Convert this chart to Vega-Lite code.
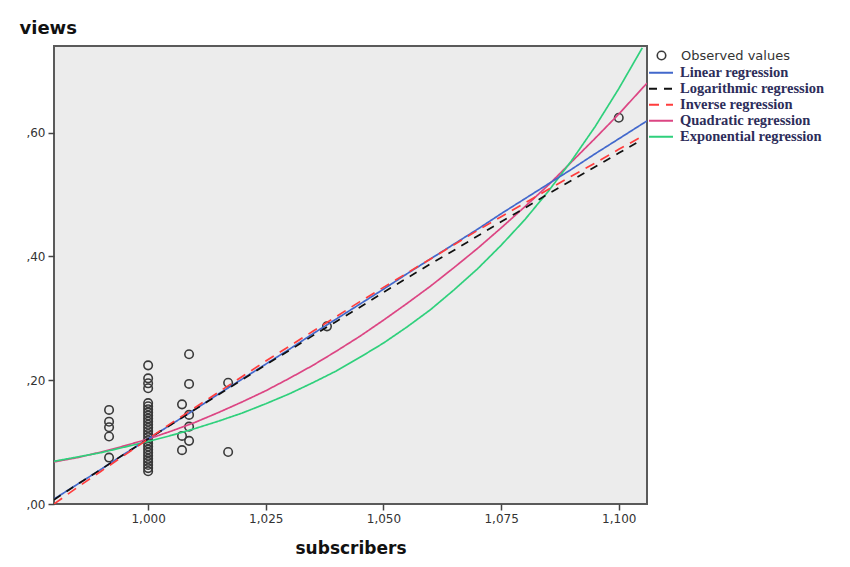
{
  "$schema": "https://vega.github.io/schema/vega-lite/v6.json",
  "width": 593,
  "height": 458,
  "autosize": {"type": "none"},
  "padding": {"left": 54, "top": 46, "right": 203, "bottom": 63},
  "background": "white",
  "config": {
    "view": {"fill": "#ececec", "stroke": "#5a5a5a", "strokeWidth": 2},
    "axis": {"grid": false, "domain": false, "tickSize": 6, "tickColor": "#444", "tickWidth": 1.5, "labelFont": "DejaVu Sans", "labelFontSize": 12, "labelColor": "#333", "titleFont": "DejaVu Sans", "titleFontSize": 17, "titleFontWeight": "bold", "titleColor": "#111"}
  },
  "datasets": {
    "obs": [
      {"subscribers": 0.9917, "views": 0.152}, {"subscribers": 0.9917, "views": 0.133}, {"subscribers": 0.9917, "views": 0.124}, {"subscribers": 0.9917, "views": 0.109}, {"subscribers": 0.9917, "views": 0.075},
      {"subscribers": 1.0, "views": 0.224}, {"subscribers": 1.0, "views": 0.203}, {"subscribers": 1.0, "views": 0.195}, {"subscribers": 1.0, "views": 0.187},
      {"subscribers": 1.0, "views": 0.163}, {"subscribers": 1.0, "views": 0.158}, {"subscribers": 1.0, "views": 0.153}, {"subscribers": 1.0, "views": 0.148}, {"subscribers": 1.0, "views": 0.143}, {"subscribers": 1.0, "views": 0.138}, {"subscribers": 1.0, "views": 0.133}, {"subscribers": 1.0, "views": 0.128}, {"subscribers": 1.0, "views": 0.123}, {"subscribers": 1.0, "views": 0.118}, {"subscribers": 1.0, "views": 0.113}, {"subscribers": 1.0, "views": 0.108}, {"subscribers": 1.0, "views": 0.103}, {"subscribers": 1.0, "views": 0.098}, {"subscribers": 1.0, "views": 0.093}, {"subscribers": 1.0, "views": 0.088}, {"subscribers": 1.0, "views": 0.083}, {"subscribers": 1.0, "views": 0.078}, {"subscribers": 1.0, "views": 0.073}, {"subscribers": 1.0, "views": 0.068}, {"subscribers": 1.0, "views": 0.063}, {"subscribers": 1.0, "views": 0.058}, {"subscribers": 1.0, "views": 0.053},
      {"subscribers": 1.0072, "views": 0.161}, {"subscribers": 1.0072, "views": 0.110}, {"subscribers": 1.0072, "views": 0.087},
      {"subscribers": 1.0087, "views": 0.242}, {"subscribers": 1.0087, "views": 0.194}, {"subscribers": 1.0087, "views": 0.144}, {"subscribers": 1.0087, "views": 0.125}, {"subscribers": 1.0087, "views": 0.102},
      {"subscribers": 1.017, "views": 0.196}, {"subscribers": 1.017, "views": 0.084},
      {"subscribers": 1.038, "views": 0.287},
      {"subscribers": 1.1, "views": 0.624}
    ],
    "fits": [
      {"model": "Quadratic regression", "subscribers": 0.98, "views": 0.068}, {"model": "Quadratic regression", "subscribers": 0.985, "views": 0.075}, {"model": "Quadratic regression", "subscribers": 0.99, "views": 0.084}, {"model": "Quadratic regression", "subscribers": 0.995, "views": 0.094}, {"model": "Quadratic regression", "subscribers": 1.0, "views": 0.105}, {"model": "Quadratic regression", "subscribers": 1.005, "views": 0.118}, {"model": "Quadratic regression", "subscribers": 1.01, "views": 0.132}, {"model": "Quadratic regression", "subscribers": 1.015, "views": 0.148}, {"model": "Quadratic regression", "subscribers": 1.02, "views": 0.165}, {"model": "Quadratic regression", "subscribers": 1.025, "views": 0.183}, {"model": "Quadratic regression", "subscribers": 1.03, "views": 0.203}, {"model": "Quadratic regression", "subscribers": 1.035, "views": 0.224}, {"model": "Quadratic regression", "subscribers": 1.04, "views": 0.247}, {"model": "Quadratic regression", "subscribers": 1.045, "views": 0.271}, {"model": "Quadratic regression", "subscribers": 1.05, "views": 0.297}, {"model": "Quadratic regression", "subscribers": 1.055, "views": 0.324}, {"model": "Quadratic regression", "subscribers": 1.06, "views": 0.352}, {"model": "Quadratic regression", "subscribers": 1.065, "views": 0.382}, {"model": "Quadratic regression", "subscribers": 1.07, "views": 0.413}, {"model": "Quadratic regression", "subscribers": 1.075, "views": 0.446}, {"model": "Quadratic regression", "subscribers": 1.08, "views": 0.480}, {"model": "Quadratic regression", "subscribers": 1.085, "views": 0.515}, {"model": "Quadratic regression", "subscribers": 1.09, "views": 0.553}, {"model": "Quadratic regression", "subscribers": 1.095, "views": 0.591}, {"model": "Quadratic regression", "subscribers": 1.1, "views": 0.630}, {"model": "Quadratic regression", "subscribers": 1.106, "views": 0.680},
      {"model": "Exponential regression", "subscribers": 0.98, "views": 0.069}, {"model": "Exponential regression", "subscribers": 0.985, "views": 0.076}, {"model": "Exponential regression", "subscribers": 0.99, "views": 0.083}, {"model": "Exponential regression", "subscribers": 0.995, "views": 0.092}, {"model": "Exponential regression", "subscribers": 1.0, "views": 0.101}, {"model": "Exponential regression", "subscribers": 1.005, "views": 0.111}, {"model": "Exponential regression", "subscribers": 1.01, "views": 0.122}, {"model": "Exponential regression", "subscribers": 1.015, "views": 0.134}, {"model": "Exponential regression", "subscribers": 1.02, "views": 0.147}, {"model": "Exponential regression", "subscribers": 1.025, "views": 0.162}, {"model": "Exponential regression", "subscribers": 1.03, "views": 0.178}, {"model": "Exponential regression", "subscribers": 1.035, "views": 0.196}, {"model": "Exponential regression", "subscribers": 1.04, "views": 0.215}, {"model": "Exponential regression", "subscribers": 1.045, "views": 0.237}, {"model": "Exponential regression", "subscribers": 1.05, "views": 0.260}, {"model": "Exponential regression", "subscribers": 1.055, "views": 0.286}, {"model": "Exponential regression", "subscribers": 1.06, "views": 0.314}, {"model": "Exponential regression", "subscribers": 1.065, "views": 0.346}, {"model": "Exponential regression", "subscribers": 1.07, "views": 0.380}, {"model": "Exponential regression", "subscribers": 1.075, "views": 0.418}, {"model": "Exponential regression", "subscribers": 1.08, "views": 0.459}, {"model": "Exponential regression", "subscribers": 1.085, "views": 0.505}, {"model": "Exponential regression", "subscribers": 1.09, "views": 0.555}, {"model": "Exponential regression", "subscribers": 1.095, "views": 0.610}, {"model": "Exponential regression", "subscribers": 1.1, "views": 0.671}, {"model": "Exponential regression", "subscribers": 1.105, "views": 0.737},
      {"model": "Linear regression", "subscribers": 0.98, "views": 0.008}, {"model": "Linear regression", "subscribers": 0.985, "views": 0.032}, {"model": "Linear regression", "subscribers": 0.99, "views": 0.056}, {"model": "Linear regression", "subscribers": 0.995, "views": 0.081}, {"model": "Linear regression", "subscribers": 1.0, "views": 0.105}, {"model": "Linear regression", "subscribers": 1.005, "views": 0.129}, {"model": "Linear regression", "subscribers": 1.01, "views": 0.153}, {"model": "Linear regression", "subscribers": 1.015, "views": 0.178}, {"model": "Linear regression", "subscribers": 1.02, "views": 0.202}, {"model": "Linear regression", "subscribers": 1.025, "views": 0.226}, {"model": "Linear regression", "subscribers": 1.03, "views": 0.250}, {"model": "Linear regression", "subscribers": 1.035, "views": 0.275}, {"model": "Linear regression", "subscribers": 1.04, "views": 0.299}, {"model": "Linear regression", "subscribers": 1.045, "views": 0.323}, {"model": "Linear regression", "subscribers": 1.05, "views": 0.347}, {"model": "Linear regression", "subscribers": 1.055, "views": 0.372}, {"model": "Linear regression", "subscribers": 1.06, "views": 0.396}, {"model": "Linear regression", "subscribers": 1.065, "views": 0.420}, {"model": "Linear regression", "subscribers": 1.07, "views": 0.444}, {"model": "Linear regression", "subscribers": 1.075, "views": 0.469}, {"model": "Linear regression", "subscribers": 1.08, "views": 0.493}, {"model": "Linear regression", "subscribers": 1.085, "views": 0.517}, {"model": "Linear regression", "subscribers": 1.09, "views": 0.541}, {"model": "Linear regression", "subscribers": 1.095, "views": 0.566}, {"model": "Linear regression", "subscribers": 1.1, "views": 0.590}, {"model": "Linear regression", "subscribers": 1.106, "views": 0.619},
      {"model": "Logarithmic regression", "subscribers": 0.98, "views": 0.007}, {"model": "Logarithmic regression", "subscribers": 0.985, "views": 0.032}, {"model": "Logarithmic regression", "subscribers": 0.99, "views": 0.056}, {"model": "Logarithmic regression", "subscribers": 0.995, "views": 0.081}, {"model": "Logarithmic regression", "subscribers": 1.0, "views": 0.105}, {"model": "Logarithmic regression", "subscribers": 1.005, "views": 0.129}, {"model": "Logarithmic regression", "subscribers": 1.01, "views": 0.153}, {"model": "Logarithmic regression", "subscribers": 1.015, "views": 0.177}, {"model": "Logarithmic regression", "subscribers": 1.02, "views": 0.201}, {"model": "Logarithmic regression", "subscribers": 1.025, "views": 0.225}, {"model": "Logarithmic regression", "subscribers": 1.03, "views": 0.248}, {"model": "Logarithmic regression", "subscribers": 1.035, "views": 0.272}, {"model": "Logarithmic regression", "subscribers": 1.04, "views": 0.295}, {"model": "Logarithmic regression", "subscribers": 1.045, "views": 0.318}, {"model": "Logarithmic regression", "subscribers": 1.05, "views": 0.342}, {"model": "Logarithmic regression", "subscribers": 1.055, "views": 0.365}, {"model": "Logarithmic regression", "subscribers": 1.06, "views": 0.388}, {"model": "Logarithmic regression", "subscribers": 1.065, "views": 0.410}, {"model": "Logarithmic regression", "subscribers": 1.07, "views": 0.433}, {"model": "Logarithmic regression", "subscribers": 1.075, "views": 0.456}, {"model": "Logarithmic regression", "subscribers": 1.08, "views": 0.478}, {"model": "Logarithmic regression", "subscribers": 1.085, "views": 0.501}, {"model": "Logarithmic regression", "subscribers": 1.09, "views": 0.523}, {"model": "Logarithmic regression", "subscribers": 1.095, "views": 0.545}, {"model": "Logarithmic regression", "subscribers": 1.1, "views": 0.567}, {"model": "Logarithmic regression", "subscribers": 1.105, "views": 0.589},
      {"model": "Inverse regression", "subscribers": 0.98, "views": 0.0}, {"model": "Inverse regression", "subscribers": 0.985, "views": 0.027}, {"model": "Inverse regression", "subscribers": 0.99, "views": 0.053}, {"model": "Inverse regression", "subscribers": 0.995, "views": 0.079}, {"model": "Inverse regression", "subscribers": 1.0, "views": 0.105}, {"model": "Inverse regression", "subscribers": 1.005, "views": 0.131}, {"model": "Inverse regression", "subscribers": 1.01, "views": 0.156}, {"model": "Inverse regression", "subscribers": 1.015, "views": 0.181}, {"model": "Inverse regression", "subscribers": 1.02, "views": 0.206}, {"model": "Inverse regression", "subscribers": 1.025, "views": 0.231}, {"model": "Inverse regression", "subscribers": 1.03, "views": 0.255}, {"model": "Inverse regression", "subscribers": 1.035, "views": 0.279}, {"model": "Inverse regression", "subscribers": 1.04, "views": 0.303}, {"model": "Inverse regression", "subscribers": 1.045, "views": 0.327}, {"model": "Inverse regression", "subscribers": 1.05, "views": 0.350}, {"model": "Inverse regression", "subscribers": 1.055, "views": 0.373}, {"model": "Inverse regression", "subscribers": 1.06, "views": 0.396}, {"model": "Inverse regression", "subscribers": 1.065, "views": 0.419}, {"model": "Inverse regression", "subscribers": 1.07, "views": 0.442}, {"model": "Inverse regression", "subscribers": 1.075, "views": 0.464}, {"model": "Inverse regression", "subscribers": 1.08, "views": 0.486}, {"model": "Inverse regression", "subscribers": 1.085, "views": 0.508}, {"model": "Inverse regression", "subscribers": 1.09, "views": 0.530}, {"model": "Inverse regression", "subscribers": 1.095, "views": 0.551}, {"model": "Inverse regression", "subscribers": 1.1, "views": 0.573}, {"model": "Inverse regression", "subscribers": 1.105, "views": 0.594}
    ]
  },
  "layer": [
    {
      "data": {"name": "obs"},
      "mark": {"type": "point", "shape": "circle", "filled": false, "size": 72, "strokeWidth": 1.6, "color": "#3a3a3a", "opacity": 1},
      "encoding": {
        "x": {"field": "subscribers", "type": "quantitative", "scale": {"domain": [0.98, 1.106], "nice": false, "zero": false},
          "axis": {"title": "subscribers", "values": [1, 1.025, 1.05, 1.075, 1.1], "labelExpr": "replace(format(datum.value, '.3f'), '.', ',')", "labelPadding": 3, "titleBaseline": "alphabetic", "titleY": 49}},
        "y": {"field": "views", "type": "quantitative", "scale": {"domain": [0, 0.74], "nice": false, "zero": false},
          "axis": {"title": "views", "values": [0, 0.2, 0.4, 0.6], "labelExpr": "replace(format(datum.value, '.2f'), '0.', ',')", "labelPadding": 3, "titleAngle": 0, "titleAlign": "left", "titleBaseline": "alphabetic", "titleX": -35, "titleY": -13, "titleFontSize": 18}},
        "shape": {"datum": "Observed values", "type": "nominal", "scale": {"domain": ["Observed values"], "range": ["circle"]},
          "legend": {"title": null, "orient": "none", "legendX": 601, "legendY": 3, "padding": 0, "symbolSize": 72, "symbolStrokeColor": "#3a3a3a", "symbolFillColor": "transparent", "symbolStrokeWidth": 1.6, "labelFont": "DejaVu Sans", "labelFontSize": 13, "labelColor": "#333", "labelOffset": 13}}
      }
    },
    {
      "data": {"name": "fits"},
      "mark": {"type": "line", "strokeWidth": 1.7, "clip": true},
      "encoding": {
        "x": {"field": "subscribers", "type": "quantitative"},
        "y": {"field": "views", "type": "quantitative"},
        "color": {"field": "model", "type": "nominal", "sort": null,
          "scale": {"domain": ["Linear regression", "Logarithmic regression", "Inverse regression", "Quadratic regression", "Exponential regression"], "range": ["#4268cc", "#111111", "#ff3d3d", "#dc4583", "#2fd07c"]},
          "legend": {"title": null, "orient": "none", "legendX": 594, "legendY": 19.5, "padding": 0, "symbolType": "stroke", "symbolSize": 576, "symbolStrokeWidth": 2, "clipHeight": 14.5, "rowPadding": 0, "labelFont": "Liberation Serif", "labelFontSize": 14.5, "labelFontWeight": "bold", "labelColor": "#2d2d5a", "labelOffset": 6}},
        "strokeDash": {"field": "model", "type": "nominal", "sort": null,
          "scale": {"domain": ["Linear regression", "Logarithmic regression", "Inverse regression", "Quadratic regression", "Exponential regression"], "range": [[1, 0], [8, 7], [10, 7], [1, 0], [1, 0]]},
          "legend": {"title": null, "orient": "none", "legendX": 594, "legendY": 19.5, "padding": 0, "symbolType": "stroke", "symbolSize": 576, "symbolStrokeWidth": 2, "clipHeight": 14.5, "rowPadding": 0, "labelFont": "Liberation Serif", "labelFontSize": 14.5, "labelFontWeight": "bold", "labelColor": "#2d2d5a", "labelOffset": 6}}
      }
    }
  ]
}
